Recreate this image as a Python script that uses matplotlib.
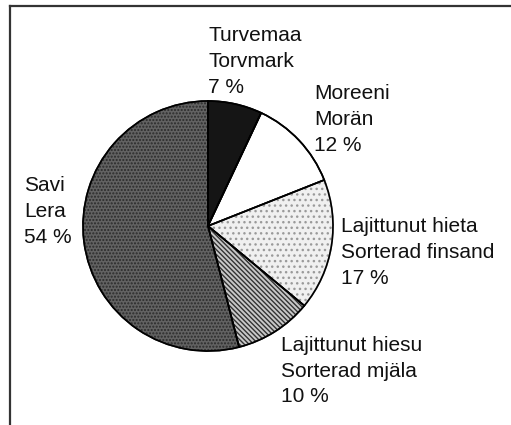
# Pie chart of soil types (Finnish / Swedish labels)

import matplotlib.pyplot as plt
from matplotlib.patches import Wedge

plt.rcParams['font.family'] = ['Liberation Sans', 'DejaVu Sans']

labels_fi = ['Turvemaa', 'Moreeni', 'Lajittunut hieta', 'Lajittunut hiesu', 'Savi']
labels_sv = ['Torvmark', 'Morän', 'Sorterad finsand', 'Sorterad mjäla', 'Lera']
shares = [7, 12, 17, 10, 54]

fills = ['#151515', 'white', '#f0f0f0', '#c8c8c8', '#626262']
hatches = [None, None, '...', '\\\\\\\\\\\\\\', '.....']
hatch_cols = [None, None, '#9a9a9a', '#333333', '#2a2a2a']

# label anchor (left, top) in pixels of the 511x425 picture
label_pos = [(208, 26), (314, 84), (341, 217), (281, 336), (24, 176)]

W, H = 511, 425
fig = plt.figure(figsize=(W / 100, H / 100), dpi=100)
ax = fig.add_axes([0, 0, 1, 1])

wedges, _ = ax.pie(shares, startangle=90, counterclock=False,
                   center=(208, H - 226), radius=125, frame=True,
                   colors=fills,
                   wedgeprops=dict(edgecolor='black', linewidth=1.2))
for w, h, hc in zip(wedges, hatches, hatch_cols):
    if h:
        w.set_hatch(h)
        w.set_edgecolor(hc)
    # black outline on top of every slice
    ax.add_patch(Wedge(w.center, w.r, w.theta1, w.theta2, fill=False,
                       edgecolor='black', linewidth=1.2, zorder=3))
ax.set_xlim(0, W)
ax.set_ylim(0, H)
ax.set_aspect('equal')
ax.axis('off')

for fi, sv, p, (x, y) in zip(labels_fi, labels_sv, shares, label_pos):
    ax.text(x, H - y, f'{fi}\n{sv}\n{p} %', ha='left', va='top',
            fontsize=15, color='#111111', linespacing=1.45)

# frame (top and left edge only, like the scanned original)
ax.plot([10, W], [H - 6, H - 6], color='#333333', linewidth=1.6)
ax.plot([10, 10], [H - 6, 0], color='#333333', linewidth=1.6)

plt.savefig('out.png', dpi=100)
